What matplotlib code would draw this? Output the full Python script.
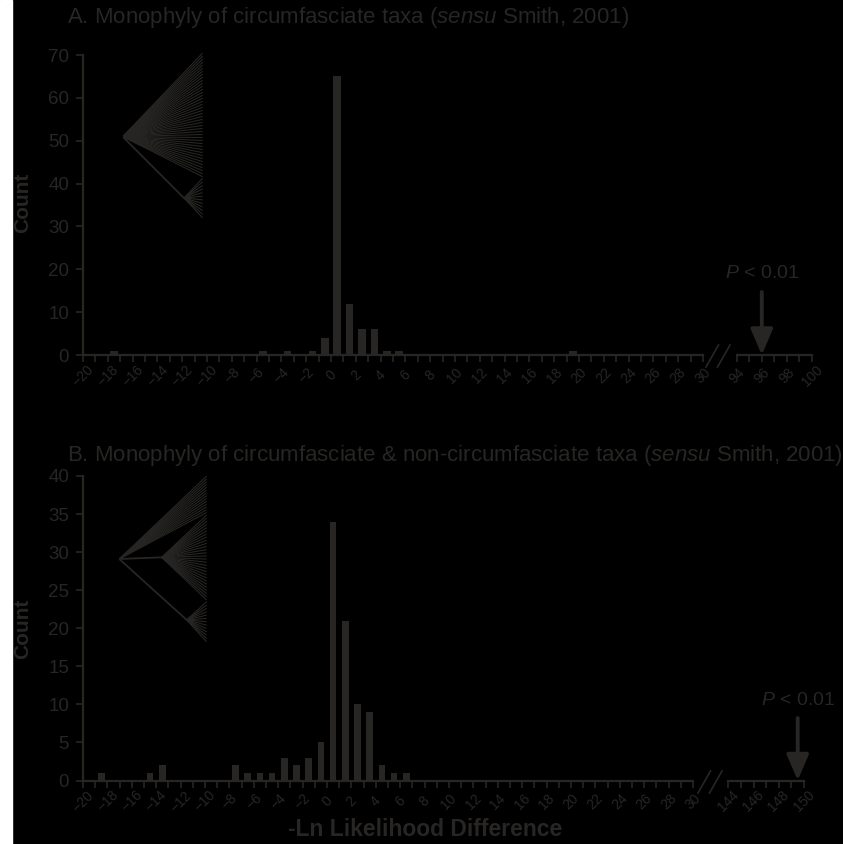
import matplotlib
matplotlib.use("Agg")
import matplotlib.pyplot as plt
from matplotlib.patches import Rectangle, ArrowStyle
from matplotlib.lines import Line2D

plt.rcParams['font.family'] = ['Liberation Sans', 'DejaVu Sans']
plt.rcParams['mathtext.fontset'] = 'custom'
plt.rcParams['mathtext.rm'] = 'Liberation Sans'
plt.rcParams['mathtext.it'] = 'Liberation Sans:italic'

INK = '#272624'
W, H = 843, 844

# counts per 1-unit bin, each bin named by its left edge
a_bins = [-18, -6, -4, -2, -1, 0, 1, 2, 3, 4, 5, 19]
a_counts = [1, 1, 1, 1, 4, 65, 12, 6, 6, 1, 1, 1]
a_observed = 96
b_bins = [-19, -15, -14, -8, -7, -6, -5, -4, -3, -2, -1, 0, 1, 2, 3, 4, 5, 6]
b_counts = [1, 1, 2, 2, 1, 1, 1, 3, 2, 3, 5, 34, 21, 10, 9, 2, 1, 1]
b_observed = 149.5

a_title = "A. Monophyly of circumfasciate taxa ($\\mathit{sensu}$ Smith, 2001)"
b_title = ("B. Monophyly of circumfasciate & non-circumfasciate taxa "
           "($\\mathit{sensu}$ Smith, 2001)")

# tip counts of the inset trees
a_tree_tips = [42, 12]
b_tree_tips = [14, 28, 13]


def fx(x):
    return x / W


def fy(y):
    return 1 - y / H


def style_xaxis(ax, lo, hi):
    ax.set_xlim(lo, hi)
    ax.set_xticks(range(lo, hi + 1, 2))
    ax.set_xticks(range(lo, hi + 1), minor=True)
    ax.tick_params(axis='x', which='both', direction='out', length=5, width=1.2,
                   color=INK, labelcolor=INK, labelsize=10, pad=10)
    for lbl in ax.get_xticklabels():
        lbl.set_rotation(45)
        lbl.set_va('center')
        lbl.set_ha('center')
    for s in ['top', 'right']:
        ax.spines[s].set_visible(False)
    ax.spines['bottom'].set_color(INK)
    ax.spines['bottom'].set_linewidth(1.6)
    ax.set_facecolor('none')


def draw_panel(box, rbox, bins, counts, width, ymax, ystep, rlo, observed, p_y, arrow_top):
    ax = fig.add_axes(box)
    centers = [b + 0.5 for b in bins]
    ax.bar(centers, counts, width=width, color=INK, edgecolor='none')
    style_xaxis(ax, -20, 30)
    ax.set_ylim(0, ymax)
    ax.set_yticks(range(0, ymax + 1, ystep))
    ax.tick_params(axis='y', direction='out', length=5, width=1.2, color=INK,
                   labelcolor=INK, labelsize=13.5, pad=5)
    ax.spines['left'].set_color(INK)
    ax.spines['left'].set_linewidth(1.6)

    rax = fig.add_axes(rbox)
    style_xaxis(rax, rlo, rlo + 6)
    rax.set_ylim(0, ymax)
    rax.set_yticks([])
    rax.spines['left'].set_visible(False)
    rax.annotate('', xy=(observed, 0), xytext=(observed, arrow_top),
                 arrowprops=dict(arrowstyle=ArrowStyle('-|>', head_length=1.05, head_width=0.45),
                                 mutation_scale=15, lw=2.8, color=INK,
                                 shrinkA=0, shrinkB=0))
    rax.text(observed, p_y, '$P$ < 0.01', ha='center', va='center',
             fontsize=14, color=INK)
    return ax


def draw_break(x0, y0):
    for dx in (0, 11.5):
        fig.add_artist(Line2D([fx(x0 + dx), fx(x0 + dx + 12.5)], [fy(y0), fy(y0 - 22)],
                              color=INK, lw=1.2))


def fan(ax, node, y_top, y_bot, n, lw=0.8):
    for i in range(n):
        y = y_top - (y_top - y_bot) * i / (n - 1)
        ax.plot([node[0], 1], [node[1], y], color=INK, lw=lw, solid_capstyle='butt')


def tree_axes(px_box):
    x0, x1, y0, y1 = px_box
    t = fig.add_axes([fx(x0), fy(y1), (x1 - x0) / W, (y1 - y0) / H])
    t.set_xlim(0, 1)
    t.set_ylim(0, 1)
    t.axis('off')
    return t


fig = plt.figure(figsize=(W / 100, H / 100), dpi=100, facecolor='black')
fig.add_artist(Rectangle((0, 0), fx(12), 1, transform=fig.transFigure,
                         color='white', zorder=-5))

draw_panel([fx(83), fy(355), 620 / W, 300 / H],
           [fx(736.7), fy(355), 75.3 / W, 300 / H],
           a_bins, a_counts, 0.6, 70, 10, 94, a_observed, 19.1, 14.7)
draw_panel([fx(83), fy(780.5), 610 / W, 304.5 / H],
           [fx(728.3), fy(780.5), 75.7 / W, 304.5 / H],
           b_bins, b_counts, 0.55, 40, 5, 144, b_observed, 10.5, 8.2)

draw_break(706, 367)
draw_break(698, 793)

# inset trees
ta = tree_axes((122.7, 202.7, 53, 218))
root = (0, 0.493)
fan(ta, root, 1.0, 0.25, a_tree_tips[0])
small = (0.766, 0.121)
ta.plot([root[0], small[0]], [root[1], small[1]], color=INK, lw=1.3)
fan(ta, small, 0.242, 0.0, a_tree_tips[1])

tb = tree_axes((119.3, 206.7, 476, 642))
root = (0, 0.5)
fan(tb, root, 1.0, 0.78, b_tree_tips[0])
mid = (0.485, 0.51)
tb.plot([root[0], mid[0]], [root[1], mid[1]], color=INK, lw=1.3)
fan(tb, mid, 0.765, 0.253, b_tree_tips[1])
low = (0.771, 0.133)
tb.plot([root[0], low[0]], [root[1], low[1]], color=INK, lw=1.3)
fan(tb, low, 0.243, 0.0, b_tree_tips[2])

fig.text(fx(67), fy(17), a_title, fontsize=16, color=INK, va='center')
fig.text(fx(67), fy(455), b_title, fontsize=16, color=INK, va='center')
fig.text(fx(22.7), fy(203), 'Count', rotation=90, fontsize=15, fontweight='bold',
         color=INK, ha='center', va='center')
fig.text(fx(22.7), fy(629), 'Count', rotation=90, fontsize=15, fontweight='bold',
         color=INK, ha='center', va='center')
fig.text(fx(425), fy(836), '-Ln Likelihood Difference', fontsize=16.5, fontweight='bold',
         color=INK, ha='center', va='baseline')

fig.savefig('out.png', dpi=100, facecolor=fig.get_facecolor())
